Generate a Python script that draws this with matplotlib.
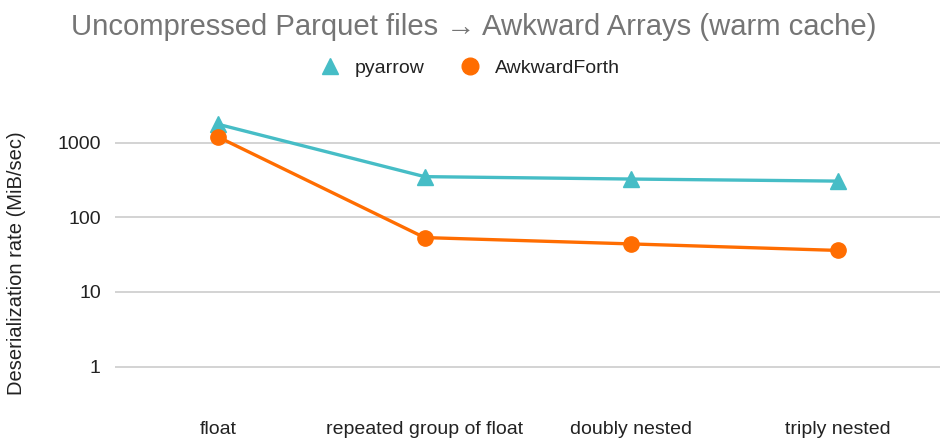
import numpy as np
import matplotlib
matplotlib.use("Agg")
from matplotlib import pyplot as plt
from matplotlib.lines import Line2D

categories = ["float", "repeated group of float", "doubly nested", "triply nested"]
pyarrow_rate = [1760, 350, 325, 305]
forth_rate = [1190, 53.5, 44, 36]
y_ticks = [1, 10, 100, 1000]
y_tick_labels = ["1", "10", "100", "1000"]

teal = "#46bdc6"
orange = "#ff6d01"

plt.rcParams['font.family'] = ['Liberation Sans', 'DejaVu Sans']

fig = plt.figure(figsize=(9.4, 4.41), dpi=100)
# axes in pixel terms: left 114.7, right 941, top y=100, bottom y=400
ax = fig.add_axes([114.7 / 940, 41 / 441, (941 - 114.7) / 940, 300 / 441])

x = np.arange(len(categories))
ax.plot(x, pyarrow_rate, color=teal, lw=2.4, marker="^", ms=12, zorder=3)
ax.plot(x, forth_rate, color=orange, lw=2.4, marker="o", ms=11, zorder=3)

ax.set_yscale("log")
ax.set_ylim(10 ** -0.446, 10 ** 3.57)
ax.set_xlim(-0.5, 3.5)
ax.set_yticks(y_ticks)
ax.set_yticklabels(y_tick_labels)
ax.yaxis.set_minor_locator(matplotlib.ticker.NullLocator())
ax.set_xticks(x)
ax.set_xticklabels(categories)
ax.tick_params(axis="both", length=0, labelsize=14, colors="#222222")
ax.tick_params(axis="y", pad=10)
ax.tick_params(axis="x", pad=15)
ax.grid(axis="y", color="#cccccc", lw=1.2)
ax.set_axisbelow(True)
for s in ax.spines.values():
    s.set_visible(False)

ax.set_ylabel("Deserialization rate (MiB/sec)", fontsize=14.5, color="#222222")
ax.yaxis.set_label_coords(-0.107, 0.457)

fig.suptitle("Uncompressed Parquet files \u2192 Awkward Arrays (warm cache)",
             x=0.504, y=0.97, fontsize=21.1, color="#757575")

handles = [Line2D([], [], ls="none", marker="^", ms=12, color=teal),
           Line2D([], [], ls="none", marker="o", ms=12, color=orange)]
fig.legend(handles, ["pyarrow", "AwkwardForth"], loc="center",
           bbox_to_anchor=(0.5, 1 - 68 / 441), ncol=2, frameon=False,
           fontsize=14, handlelength=1.0, handletextpad=0.8, columnspacing=1.8,
           labelcolor="#222222")

fig.savefig("out.png", dpi=100)
